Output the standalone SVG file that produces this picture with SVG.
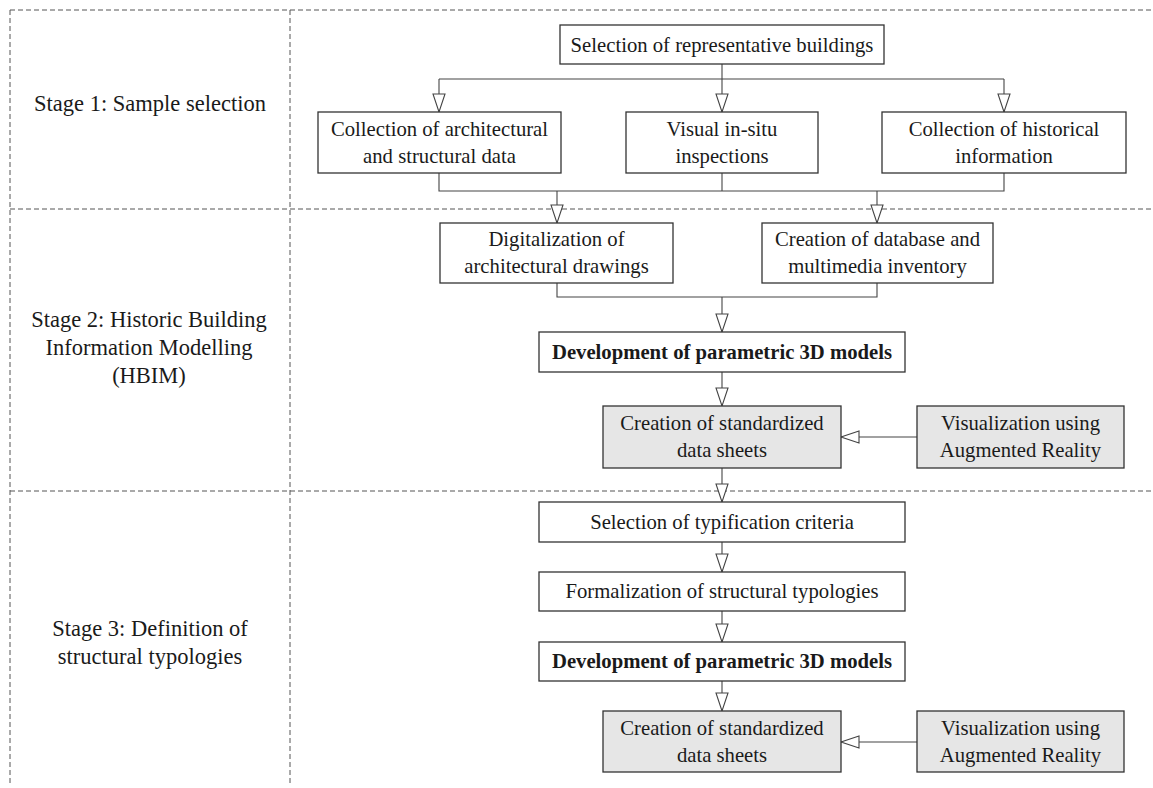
<svg xmlns="http://www.w3.org/2000/svg" width="1153" height="788" viewBox="0 0 1153 788">
<defs>
<style>
.lane{stroke:#555;stroke-width:1;stroke-dasharray:5,3;fill:none}
.box{fill:#fff;stroke:#333;stroke-width:1.3}
.gbox{fill:#e6e6e6;stroke:#333;stroke-width:1.3}
.t{font-family:"Liberation Serif","Times New Roman",serif;font-size:20.7px;fill:#1a1a1a;text-anchor:middle}
.b{font-weight:bold}
.st{font-family:"Liberation Serif","Times New Roman",serif;font-size:22.5px;fill:#1a1a1a;text-anchor:middle}
.c{stroke:#444;stroke-width:1.1;fill:none}
</style>
<marker id="ah" viewBox="0 0 20 14" refX="19" refY="7" markerWidth="20" markerHeight="14" markerUnits="userSpaceOnUse" orient="auto">
<path d="M1,1 L19,7 L1,13 Z" fill="#fff" stroke="#444" stroke-width="1.1"/>
</marker>
</defs>
<rect width="1153" height="788" fill="#fff"/>
<g id="lanes">
<line class="lane" x1="10" y1="10" x2="1153" y2="10"/>
<line class="lane" x1="10" y1="209" x2="1153" y2="209"/>
<line class="lane" x1="10" y1="491" x2="1153" y2="491"/>
<line class="lane" x1="10" y1="10" x2="10" y2="786"/>
<line class="lane" x1="290" y1="10" x2="290" y2="786"/>
</g>
<g id="stage1"><text class="st" x="150" y="111">Stage 1: Sample selection</text></g>
<g id="stage2"><text class="st" x="149" y="327">Stage 2: Historic Building</text><text class="st" x="149" y="355">Information Modelling</text><text class="st" x="149" y="383">(HBIM)</text></g>
<g id="stage3"><text class="st" x="150" y="636">Stage 3: Definition of</text><text class="st" x="150" y="664">structural typologies</text></g>

<g id="connectors">
<path class="c" d="M722,64 V79"/>
<path class="c" d="M439,79 H1004"/>
<path class="c" d="M439,79 V112" marker-end="url(#ah)"/>
<path class="c" d="M722,79 V112" marker-end="url(#ah)"/>
<path class="c" d="M1004,79 V112" marker-end="url(#ah)"/>
<path class="c" d="M439,173 V191 H1004 V173"/>
<path class="c" d="M722,173 V191"/>
<path class="c" d="M557,191 V223" marker-end="url(#ah)"/>
<path class="c" d="M877,191 V223" marker-end="url(#ah)"/>
<path class="c" d="M557,283 V297 H877 V283"/>
<path class="c" d="M722,297 V332" marker-end="url(#ah)"/>
<path class="c" d="M722,372 V406" marker-end="url(#ah)"/>
<path class="c" d="M917,437 H841" marker-end="url(#ah)"/>
<path class="c" d="M722,468 V502" marker-end="url(#ah)"/>
<path class="c" d="M722,542 V572" marker-end="url(#ah)"/>
<path class="c" d="M722,611 V642" marker-end="url(#ah)"/>
<path class="c" d="M722,681 V711" marker-end="url(#ah)"/>
<path class="c" d="M917,742 H841" marker-end="url(#ah)"/>
</g>

<g id="n-select"><rect class="box" x="560" y="25" width="324" height="39"/><text class="t" x="722" y="51.5">Selection of representative buildings</text></g>
<g id="n-archdata"><rect class="box" x="318" y="112" width="243" height="61"/><text class="t" x="439.5" y="136">Collection of architectural</text><text class="t" x="439.5" y="163">and structural data</text></g>
<g id="n-visual"><rect class="box" x="626" y="112" width="192" height="61"/><text class="t" x="722" y="136">Visual in-situ</text><text class="t" x="722" y="163">inspections</text></g>
<g id="n-hist"><rect class="box" x="882" y="112" width="244" height="61"/><text class="t" x="1004" y="136">Collection of historical</text><text class="t" x="1004" y="163">information</text></g>

<g id="n-digital"><rect class="box" x="440" y="223" width="233" height="60"/><text class="t" x="556.5" y="246">Digitalization of</text><text class="t" x="556.5" y="273">architectural drawings</text></g>
<g id="n-db"><rect class="box" x="762" y="223" width="231" height="60"/><text class="t" x="877.5" y="246">Creation of database and</text><text class="t" x="877.5" y="273">multimedia inventory</text></g>
<g id="n-dev1"><rect class="box" x="539" y="332" width="366" height="40"/><text class="t b" x="722" y="359">Development of parametric 3D models</text></g>
<g id="n-sheets1"><rect class="gbox" x="603" y="406" width="238" height="62"/><text class="t" x="722" y="430">Creation of standardized</text><text class="t" x="722" y="457">data sheets</text></g>
<g id="n-ar1"><rect class="gbox" x="917" y="406" width="207" height="62"/><text class="t" x="1020.5" y="430">Visualization using</text><text class="t" x="1020.5" y="457">Augmented Reality</text></g>

<g id="n-criteria"><rect class="box" x="539" y="502" width="366" height="40"/><text class="t" x="722" y="529">Selection of typification criteria</text></g>
<g id="n-formal"><rect class="box" x="539" y="572" width="366" height="39"/><text class="t" x="722" y="598">Formalization of structural typologies</text></g>
<g id="n-dev2"><rect class="box" x="539" y="642" width="366" height="39"/><text class="t b" x="722" y="668">Development of parametric 3D models</text></g>
<g id="n-sheets2"><rect class="gbox" x="603" y="711" width="238" height="61"/><text class="t" x="722" y="735">Creation of standardized</text><text class="t" x="722" y="762">data sheets</text></g>
<g id="n-ar2"><rect class="gbox" x="917" y="711" width="207" height="61"/><text class="t" x="1020.5" y="735">Visualization using</text><text class="t" x="1020.5" y="762">Augmented Reality</text></g>
</svg>
